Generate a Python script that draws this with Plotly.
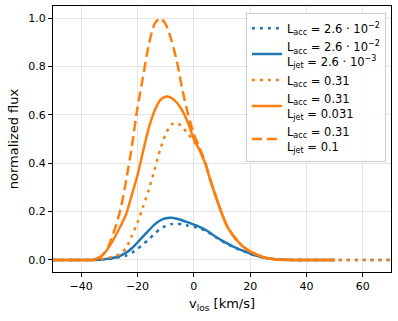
import plotly.graph_objects as go

# velocity grid (km/s)
v = [-50, -40, -36, -34, -32, -30, -28, -26, -24, -22, -20, -18, -16, -14, -12,
     -10, -8, -6, -4, -2, 0, 2, 4, 6, 8, 10, 12, 14, 16, 18, 20, 22, 24, 26,
     28, 30, 35, 40, 50]
v_ext = v + [60, 70]

# L_acc = 2.6e-2 (no jet)
blue_dot = [0, 0, 0, 0.001, 0.002, 0.004, 0.007, 0.012, 0.018, 0.03, 0.045,
            0.065, 0.085, 0.108, 0.128, 0.14, 0.148, 0.15, 0.147, 0.141, 0.137,
            0.131, 0.121, 0.107, 0.092, 0.078, 0.065, 0.053, 0.043, 0.034,
            0.025, 0.017, 0.011, 0.007, 0.004, 0.002, 0, 0, 0, 0, 0]
# L_acc = 2.6e-2, L_jet = 2.6e-3
blue_solid = [0, 0, 0, 0.001, 0.003, 0.006, 0.01, 0.018, 0.03, 0.048, 0.072,
              0.097, 0.122, 0.146, 0.163, 0.172, 0.174, 0.17, 0.163, 0.155,
              0.146, 0.137, 0.125, 0.11, 0.094, 0.08, 0.067, 0.055, 0.045,
              0.035, 0.026, 0.018, 0.012, 0.007, 0.004, 0.002, 0, 0, 0]
# L_acc = 0.31 (no jet)
orange_dot = [0, 0, 0, 0.002, 0.005, 0.01, 0.015, 0.026, 0.05, 0.1, 0.155,
              0.22, 0.29, 0.37, 0.455, 0.52, 0.56, 0.568, 0.548, 0.52, 0.49,
              0.455, 0.4, 0.325, 0.255, 0.19, 0.135, 0.1, 0.072, 0.05, 0.035,
              0.024, 0.014, 0.008, 0.004, 0.001, 0, 0, 0, 0, 0]
# L_acc = 0.31, L_jet = 0.031
orange_solid = [0, 0, 0, 0.008, 0.025, 0.055, 0.095, 0.14, 0.19, 0.27, 0.35,
                0.45, 0.545, 0.615, 0.66, 0.675, 0.67, 0.65, 0.615, 0.565,
                0.5, 0.455, 0.4, 0.325, 0.255, 0.19, 0.135, 0.1, 0.072, 0.05,
                0.035, 0.024, 0.014, 0.008, 0.004, 0.001, 0, 0, 0]
# L_acc = 0.31, L_jet = 0.1
orange_dash = [0, 0, 0, 0.005, 0.025, 0.065, 0.13, 0.21, 0.33, 0.47, 0.63,
               0.76, 0.89, 0.975, 1.0, 0.975, 0.91, 0.82, 0.7, 0.6, 0.52,
               0.465, 0.405, 0.325, 0.255, 0.19, 0.135, 0.1, 0.072, 0.05,
               0.035, 0.024, 0.014, 0.008, 0.004, 0.001, 0, 0, 0]

labels = [
    "L<sub>acc</sub> = 2.6 · 10<sup>−2</sup>",
    "L<sub>acc</sub> = 2.6 · 10<sup>−2</sup><br>L<sub>jet</sub> = 2.6 · 10<sup>−3</sup>",
    "L<sub>acc</sub> = 0.31",
    "L<sub>acc</sub> = 0.31<br>L<sub>jet</sub> = 0.031",
    "L<sub>acc</sub> = 0.31<br>L<sub>jet</sub> = 0.1",
]

blue = "#1f77b4"
orange = "#ff7f0e"
DOT = "3px,5px"
DASH = "10px,5px"
LW = 2.5


def curve(x, y, name, color, dash="solid"):
    return go.Scatter(x=x, y=y, name=name, mode="lines",
                      line=dict(color=color, width=LW, dash=dash,
                                shape="spline", smoothing=0.6))


fig = go.Figure()
fig.add_trace(curve(v_ext, blue_dot, labels[0], blue, DOT))
fig.add_trace(curve(v, blue_solid, labels[1], blue))
fig.add_trace(curve(v_ext, orange_dot, labels[2], orange, DOT))
fig.add_trace(curve(v, orange_solid, labels[3], orange))
fig.add_trace(curve(v, orange_dash, labels[4], orange, DASH))

axis_style = dict(showline=True, mirror=True, linecolor="black", linewidth=1.2,
                  ticks="outside", ticklen=4, tickcolor="black",
                  showgrid=True, gridcolor="#e5e5e5", gridwidth=1,
                  zeroline=False)

fig.update_xaxes(range=[-50, 70], tickvals=[-40, -20, 0, 20, 40, 60],
                 ticktext=["−40", "−20", "0", "20", "40", "60"],
                 title=dict(text="v<sub>los</sub> [km/s]", standoff=6),
                 **axis_style)
fig.update_yaxes(range=[-0.05, 1.05], tickvals=[0, 0.2, 0.4, 0.6, 0.8, 1.0],
                 tickformat=".1f", title=dict(text="normalized flux", standoff=6),
                 **axis_style)

fig.update_layout(
    width=398, height=321,
    margin=dict(l=53, r=7, t=6, b=49),
    plot_bgcolor="white", paper_bgcolor="white",
    font=dict(family="DejaVu Sans", size=11, color="black"),
    legend=dict(x=0.985, y=0.975, xanchor="right", yanchor="top",
                bgcolor="rgba(255,255,255,0.85)", bordercolor="#cccccc",
                borderwidth=1, font=dict(size=11.5), itemwidth=30),
)

fig.write_html("out.html", config={"displayModeBar": False},
               post_script="document.body.style.margin='0';")
